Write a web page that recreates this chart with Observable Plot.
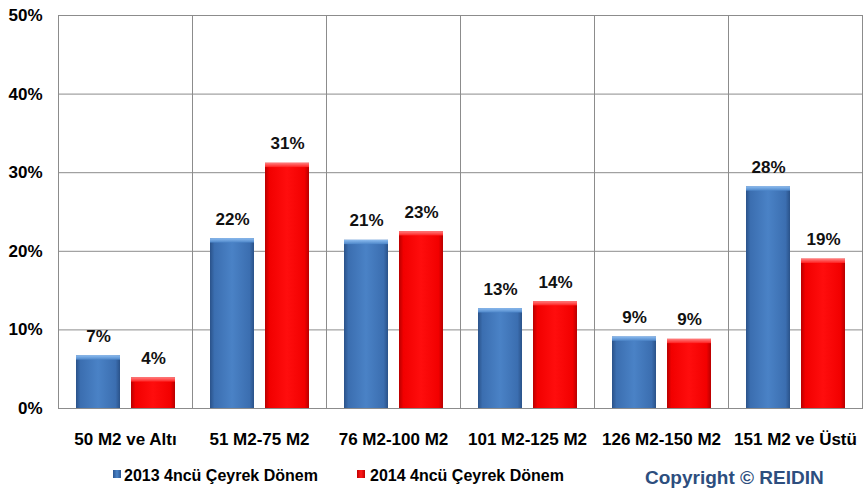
<!DOCTYPE html>
<html>
<head>
<meta charset="utf-8">
<script src="https://cdn.jsdelivr.net/npm/d3@7"></script>
<script src="https://cdn.jsdelivr.net/npm/@observablehq/plot@0.6"></script>
<style>
  html, body { margin: 0; padding: 0; background: #ffffff; }
  #wrap { position: relative; width: 865px; height: 497px; overflow: hidden;
          font-family: "Liberation Sans", Arial, sans-serif; font-weight: bold; }
  #chart svg { display: block; }
  .lg { position: absolute; white-space: nowrap; }
  .sw { position: absolute; width: 8px; height: 8px; }
  .lt { font-size: 16px; line-height: 20px; color: #000; }
  .copy { font-size: 19px; line-height: 24px; color: #2d4e7e; }
</style>
</head>
<body>
<div id="wrap">
  <div id="chart"></div>
  <div class="sw" style="left:113px;top:470px;background:linear-gradient(90deg,#2b5590,#4a84c8 50%,#2b5590);"></div>
  <div class="lg lt" style="left:124px;top:466px;">2013 4ncü Çeyrek Dönem</div>
  <div class="sw" style="left:357px;top:470px;background:linear-gradient(90deg,#c00000,#ff1a1a 50%,#c00000);"></div>
  <div class="lg lt" style="left:370px;top:466px;">2014 4ncü Çeyrek Dönem</div>
  <div class="lg copy" style="left:645px;top:466px;">Copyright © REIDIN</div>
</div>
<script>
// Apartment size bands (m²)
const categories = ["50 M2 ve Altı", "51 M2-75 M2", "76 M2-100 M2", "101 M2-125 M2", "126 M2-150 M2", "151 M2 ve Üstü"];
const series = ["2013 4ncü Çeyrek Dönem", "2014 4ncü Çeyrek Dönem"];
// Share of sales per band, in percent
const values2013 = [6.7, 21.6, 21.4, 12.7, 9.1, 28.2];
const values2014 = [3.9, 31.2, 22.5, 13.6, 8.8, 19.0];
const yTicks = [0, 10, 20, 30, 40, 50];

const rows2013 = categories.map((c, i) => ({cat: c, s: series[0], v: values2013[i]}));
const rows2014 = categories.map((c, i) => ({cat: c, s: series[1], v: values2014[i]}));
const rows = rows2013.concat(rows2014);

const font = '"Liberation Sans", Arial, sans-serif';
const gridColor = "#8c8c8c";
const cap = 0.55; // height of the bevelled top strip, in percent units

const chart = Plot.plot({
  width: 865,
  height: 452,
  marginTop: 15,
  marginBottom: 44,
  marginLeft: 58,
  marginRight: 3,
  style: {fontFamily: font, fontSize: "17px", fontWeight: "bold", color: "#000", background: "#fff", overflow: "visible"},
  fx: {domain: categories, padding: 0, axis: "bottom", label: null, tickSize: 0, tickPadding: 24},
  x: {domain: series, axis: null, paddingInner: 0.2, paddingOuter: 0.3},
  y: {domain: [0, 50], ticks: yTicks, tickFormat: d => d + "%", tickSize: 0, tickPadding: 16, label: null},
  marks: [
    Plot.ruleY(yTicks, {stroke: gridColor, strokeWidth: 1}),
    Plot.frame({stroke: gridColor, strokeWidth: 1}),
    Plot.barY(rows2013, {fx: "cat", x: "s", y: "v", fill: "url(#gBlue)"}),
    Plot.barY(rows2014, {fx: "cat", x: "s", y: "v", fill: "url(#gRed)"}),
    Plot.barY(rows2013, {fx: "cat", x: "s", y1: d => d.v - cap, y2: "v", fill: "url(#gBlueCap)"}),
    Plot.barY(rows2014, {fx: "cat", x: "s", y1: d => d.v - cap, y2: "v", fill: "url(#gRedCap)"}),
    Plot.text(rows, {fx: "cat", x: "s", y: "v", text: d => Math.round(d.v) + "%",
      lineAnchor: "bottom", dy: -14, fontSize: 17, fontWeight: "bold", fill: "#111"})
  ]
});

// Shading gradients for the bars
const defs = d3.select(chart).insert("defs", ":first-child");
function hGrad(id, edge, mid, center) {
  const g = defs.append("linearGradient").attr("id", id).attr("x1", 0).attr("x2", 1).attr("y1", 0).attr("y2", 0);
  [[0, edge], [0.1, mid], [0.5, center], [0.9, mid], [1, edge]].forEach(([o, c]) =>
    g.append("stop").attr("offset", o).attr("stop-color", c));
}
function vGrad(id, top, bottom) {
  const g = defs.append("linearGradient").attr("id", id).attr("x1", 0).attr("x2", 0).attr("y1", 0).attr("y2", 1);
  g.append("stop").attr("offset", 0).attr("stop-color", top);
  g.append("stop").attr("offset", 1).attr("stop-color", bottom);
}
hGrad("gBlue", "#2a5289", "#3b6eb0", "#4a82c6");
hGrad("gRed", "#b80000", "#f20000", "#ff0d0d");
vGrad("gBlueCap", "#8cbcf0", "#4d86c9");
vGrad("gRedCap", "#ff8080", "#ff2020");

document.getElementById("chart").appendChild(chart);
</script>
</body>
</html>
